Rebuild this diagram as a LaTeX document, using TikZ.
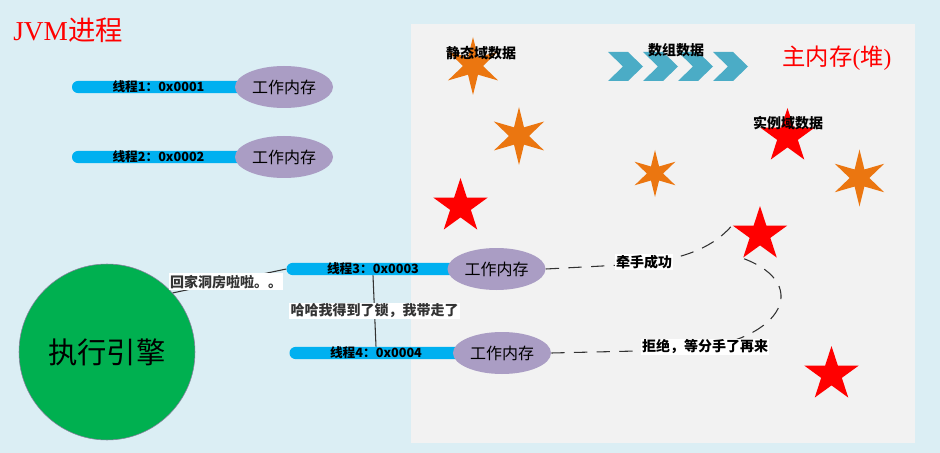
\documentclass[tikz,border=0pt]{standalone}
\usepackage{fontspec}
\setmainfont{Noto Sans CJK SC}
\newfontfamily\latinserif{Liberation Serif}
\usetikzlibrary{shapes.geometric}
\definecolor{bgblue}{RGB}{219,238,244}
\definecolor{panelgray}{RGB}{242,242,242}
\definecolor{barblue}{RGB}{0,176,240}
\definecolor{memviolet}{RGB}{170,157,196}
\definecolor{enginegreen}{RGB}{0,176,80}
\definecolor{starorange}{RGB}{235,118,16}
\definecolor{chevblue}{RGB}{75,172,198}
\tikzstyle{thread}=[rectangle,rounded corners=4.5pt,fill=barblue,minimum width=129.75pt,minimum height=9pt,inner sep=0pt,font=\fontsize{9.5}{10}\selectfont\bfseries]
\tikzstyle{workmem}=[ellipse,fill=memviolet,minimum width=73.5pt,minimum height=31.5pt,inner sep=0pt,font=\fontsize{12}{13}\selectfont]
\tikzstyle{engine}=[circle,fill=enginegreen,draw=memviolet!80!black,thin,minimum size=132pt,inner sep=0pt,font=\fontsize{22}{24}\selectfont]
\tikzstyle{redstar}=[star,star points=5,star point ratio=2.618,fill=red,inner sep=0pt,minimum size=42.75pt]
\tikzstyle{orangestar}=[star,star points=6,star point ratio=2.9,fill=starorange,inner sep=0pt]
\tikzstyle{talk}=[fill=white,inner sep=1pt,font=\fontsize{10.5}{11}\selectfont\bfseries]
\tikzstyle{datatag}=[inner sep=0pt,font=\fontsize{10.5}{11}\selectfont\bfseries]
\tikzstyle{connline}=[draw,black!80,line width=0.8pt]
\tikzstyle{dashline}=[draw,black!80,line width=0.8pt,dash pattern=on 10pt off 7pt]

\begin{document}
\begin{tikzpicture}[x=0.75pt,y=-0.75pt]

    \fill[bgblue] (0,0) rectangle (940,453);
    \useasboundingbox (0,0) rectangle (940,453);
    \fill[panelgray] (411,24) rectangle (915,443);

    \node[font=\fontsize{20.5}{22}\selectfont,text=red] (jvm) at (68,30.5) {{\latinserif JVM}进程};
    \node[font=\fontsize{17.5}{19}\selectfont,text=red] (heap) at (837,58) {主内存{\latinserif(}堆{\latinserif)}};

    % array data arrows
    \foreach \i in {0,...,3}
        \fill[chevblue] ({608+35*\i},52) -- ++(20,0) -- ++(15,14.5) -- ++(-15,14.5) -- ++(-20,0) -- ++(15,-14.5) -- cycle;

    % stars in the heap
    \foreach \pos/ \name in {{(760,234.5)/s1}, {(831.5,374.5)/s2}, {(787.5,136.5)/s3}, {(460.5,206.5)/s4}}
        \node[redstar] (\name) at \pos {};
    \foreach \pos/ \name/ \size in {{(473,66)/o1/43.5pt}, {(519,136)/o2/43.5pt}, {(655,173.5)/o3/35.25pt}, {(859.5,178)/o4/42.75pt}}
        \node[orangestar,minimum size=\size] (\name) at \pos {};

    \node[datatag] (staticdata) at (481,53) {静态域数据};
    \node[datatag] (arraydata) at (676,50) {数组数据};
    \node[datatag] (instdata) at (788,123) {实例域数据};

    % threads and their working memory
    \foreach \pos/ \name/ \num in {{(158.5,87)/t1/1}, {(158.5,157)/t2/2}, {(373,269)/t3/3}, {(376,353)/t4/4}}
        \node[thread] (\name) at \pos {线程\num：0x000\num};
    \foreach \pos/ \name in {{(284,87)/e1}, {(284,157)/e2}, {(496.5,269)/e3}, {(502,353)/e4}}
        \node[workmem] (\name) at \pos {工作内存};

    \node[engine] (engine) at (107,352) {执行引擎};

    \draw[connline] (engine.42) -- node[talk,pos=0.47] {回家洞房啦啦。。} (t3.west);
    \draw[connline] (t3.south) -- node[talk] {哈哈我得到了锁，我带走了} (t4.north);

    \draw[dashline] (e3.east) -- (640,264) .. controls (690,258) and (715,245) .. (s1.outer point 2);
    \node[talk] (hand) at (644,262) {牵手成功};
    \draw[dashline] (e4.east) -- (680,350) .. controls (780,345) and (815,285) .. (s1.outer point 3);
    \node[talk] (refuse) at (705,347) {拒绝，等分手了再来};

\end{tikzpicture}
\end{document}
